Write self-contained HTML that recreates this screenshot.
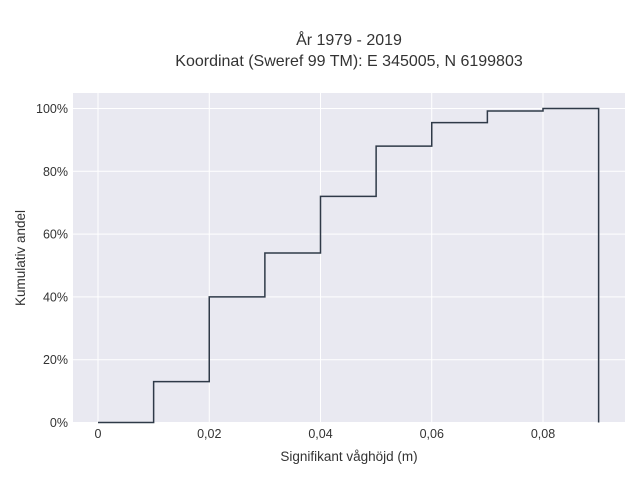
<!DOCTYPE html>
<html><head><meta charset="utf-8"><style>
body{margin:0;background:#fff;}
text{font-family:"Liberation Sans",sans-serif;fill:#333;}
</style></head><body>
<svg id="chart" width="640" height="480">
<rect x="0" y="0" width="640" height="480" fill="#fff"/>
<rect x="73" y="93" width="552" height="330" fill="#e9e9f1"/>
<g id="grid"></g>
<path id="line" fill="none" stroke="#2f3a48" stroke-width="1.5"/>
<g id="ticks"></g>
<text x="349" y="45" text-anchor="middle" font-size="16">År 1979 - 2019</text>
<text x="349" y="66" text-anchor="middle" font-size="16">Koordinat (Sweref 99 TM): E 345005, N 6199803</text>
<text x="349" y="461" text-anchor="middle" font-size="13.5">Signifikant våghöjd (m)</text>
<text transform="translate(25,258) rotate(-90)" text-anchor="middle" font-size="13.5">Kumulativ andel</text>
</svg>
<script>
const binEdges=[0,0.01,0.02,0.03,0.04,0.05,0.06,0.07,0.08,0.09];
const cumValues=[0,13,40,54,72,88,95.5,99.2,100];
const xTicks=[0,0.02,0.04,0.06,0.08];
const xTickLabels=["0","0,02","0,04","0,06","0,08"];
const yTicks=[0,20,40,60,80,100];
const yTickLabels=["0%","20%","40%","60%","80%","100%"];
const xs=v=>98+v/0.08*445;
const ys=v=>422.5-v/100*314;
const ns="http://www.w3.org/2000/svg";
const grid=document.getElementById('grid'),ticks=document.getElementById('ticks');
xTicks.forEach((t,i)=>{
 const l=document.createElementNS(ns,'line');
 
 
 l.setAttribute('x1',xs(t));l.setAttribute('x2',xs(t));l.setAttribute('y1',93);l.setAttribute('y2',423);
 l.setAttribute('stroke','#fff');l.setAttribute('stroke-width','1');grid.appendChild(l);
 const tx=document.createElementNS(ns,'text');
 
 
 tx.setAttribute('x',xs(t));tx.setAttribute('y',438);tx.setAttribute('text-anchor','middle');tx.setAttribute('font-size','12.5');
 tx.textContent=xTickLabels[i];ticks.appendChild(tx);
});
yTicks.forEach((t,i)=>{
 const l=document.createElementNS(ns,'line');
 
 
 l.setAttribute('x1',73);l.setAttribute('x2',625);l.setAttribute('y1',ys(t));l.setAttribute('y2',ys(t));
 l.setAttribute('stroke','#fff');l.setAttribute('stroke-width','1');grid.appendChild(l);
 const tx=document.createElementNS(ns,'text');
 
 
 tx.setAttribute('x',68);tx.setAttribute('y',ys(t)+4.5);tx.setAttribute('text-anchor','end');tx.setAttribute('font-size','12.5');
 tx.textContent=yTickLabels[i];ticks.appendChild(tx);
});
let d='M'+xs(binEdges[0])+','+ys(0);
cumValues.forEach((v,i)=>{d+=' L'+xs(binEdges[i])+','+ys(v)+' L'+xs(binEdges[i+1])+','+ys(v);});
d+=' L'+xs(binEdges[binEdges.length-1])+','+ys(0);
document.getElementById('line').setAttribute('d',d);
</script>
</body></html>
